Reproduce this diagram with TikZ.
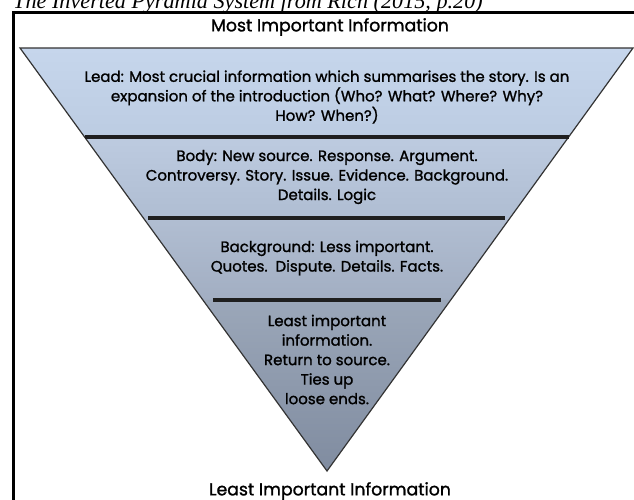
\documentclass[tikz,border=0pt]{standalone}
\usepackage{fontspec}
\setmainfont{Liberation Serif}
\newfontfamily\pyrfont[FakeBold=1.3]{Poppins}
\usetikzlibrary{calc}

\definecolor{bandA}{HTML}{C6D6EC}
\definecolor{bandAb}{HTML}{BCCCE2}
\definecolor{bandB}{HTML}{BDCBE0}
\definecolor{bandBb}{HTML}{AFBDD2}
\definecolor{bandC}{HTML}{B1BED2}
\definecolor{bandCb}{HTML}{A2AEC2}
\definecolor{bandD}{HTML}{9BA7B9}
\definecolor{bandDb}{HTML}{808CA0}

\tikzset{
  bandtxt/.style={align=center,inner sep=0pt,font=\pyrfont\fontsize{15}{19.5}\selectfont},
  headtxt/.style={inner sep=0pt,font=\pyrfont\fontsize{17.3}{18}\selectfont},
  sepline/.style={line width=4.2pt,color=black!88},
  edgeline/.style={line width=1.2pt,color=black!80,line join=miter},
}

\begin{document}
\begin{tikzpicture}[x=1pt,y=-1pt]
  \useasboundingbox (0,0) rectangle (634,499);
  \clip (0,0) rectangle (634,499);
  % caption and frame
  \node[anchor=base west,inner sep=0pt,font=\itshape\fontsize{22.2}{22}\selectfont] (caption) at (13,8) {The Inverted Pyramid System from Rich (2015, p.20)};
  \draw[line width=2.6pt] (13.5,700) -- (13.5,12.5) -- (700,12.5);

  % pyramid corners and band limits
  \coordinate (tl) at (20,48);
  \coordinate (tr) at (633,48);
  \coordinate (apex) at (327,471);
  \coordinate (l1) at ($(tl)!0.2104!(apex)$);
  \coordinate (r1) at ($(tr)!0.2104!(apex)$);
  \coordinate (l2) at ($(tl)!0.4019!(apex)$);
  \coordinate (r2) at ($(tr)!0.4019!(apex)$);
  \coordinate (l3) at ($(tl)!0.5957!(apex)$);
  \coordinate (r3) at ($(tr)!0.5957!(apex)$);

  \shade[top color=bandA,bottom color=bandAb] (tl) -- (tr) -- (r1) -- (l1) -- cycle;
  \shade[top color=bandB,bottom color=bandBb] (l1) -- (r1) -- (r2) -- (l2) -- cycle;
  \shade[top color=bandC,bottom color=bandCb] (l2) -- (r2) -- (r3) -- (l3) -- cycle;
  \shade[top color=bandD,bottom color=bandDb] (l3) -- (r3) -- (apex) -- cycle;
  \draw[edgeline] (tl) -- (tr) -- (apex) -- cycle;

  \draw[sepline] (l1) -- (r1);
  \draw[sepline] ($(l2)+(5,0)$) -- ($(r2)-(5,0)$);
  \draw[sepline] ($(l3)+(10,0)$) -- ($(r3)-(10,0)$);

  % texts
  \node[headtxt] (mostimp) at (330,27) {Most Important Information};
  \node[bandtxt] (lead) at (327,97) {Lead: Most crucial information which summarises the story. Is an\\expansion of the introduction (Who? What? Where? Why?\\How? When?)};
  \node[bandtxt] (body) at (327,177) {Body: New source. Response. Argument.\\Controversy. Story. Issue. Evidence. Background.\\Details. Logic};
  \node[bandtxt] (backgr) at (327,258) {Background: Less important.\\Quotes.\ \ Dispute. Details. Facts.};
  \node[bandtxt] (least) at (327,359.5) {Least important\\information.\\Return to source.\\Ties up\\loose ends.};
  \node[headtxt] (leastimp) at (330,491) {Least Important Information};
\end{tikzpicture}
\end{document}
